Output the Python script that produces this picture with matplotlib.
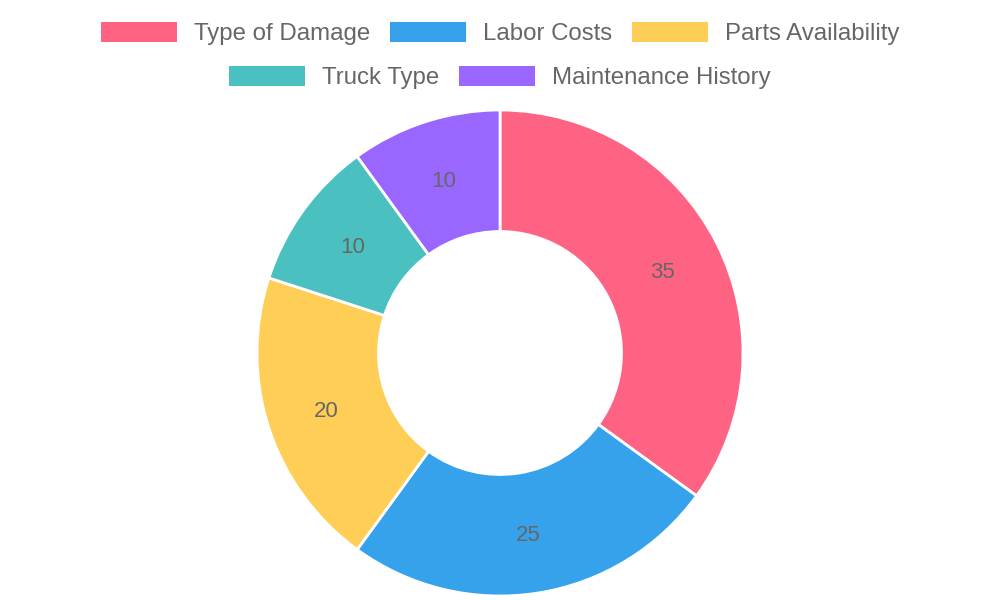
import matplotlib.pyplot as plt
from matplotlib.patches import Rectangle
import numpy as np

labels = ['Type of Damage', 'Labor Costs', 'Parts Availability', 'Truck Type', 'Maintenance History']
values = [35, 25, 20, 10, 10]
colors = ['#FF6384', '#36A2EB', '#FFCE56', '#4BC0C0', '#9966FF']

plt.rcParams['font.family'] = ['Liberation Sans', 'DejaVu Sans']

fig = plt.figure(figsize=(10, 6), dpi=100)
ax = fig.add_axes([0, 0, 1, 1])

# doughnut (pixel coords, y from bottom)
cx, cy = 500, 600 - 353
r_out = 243
r_in = r_out * 0.5
ax.pie(values, colors=colors, startangle=90, counterclock=False,
       center=(cx, cy), radius=r_out, frame=True,
       wedgeprops=dict(width=r_out - r_in, edgecolor='white', linewidth=2))
ax.set_xlim(0, 1000)
ax.set_ylim(0, 600)
ax.set_aspect('equal')
ax.axis('off')

# value labels in the middle of each slice
r_mid = (r_out + r_in) / 2
total = sum(values)
cum = 0
for v in values:
    ang = np.deg2rad(90 - 360 * (cum + v / 2) / total)
    ax.text(cx + r_mid * np.cos(ang), cy + r_mid * np.sin(ang) - 2, str(v),
            ha='center', va='center', fontsize=16, color='#666666')
    cum += v

# legend, drawn like chart.js (two centered rows)
fs = 17.3
box_w, box_h = 76, 20
txt_off, gap = 17, 20
rows = [[0, 1, 2], [3, 4]]
row_y = [32, 76]
fig.canvas.draw()
renderer = fig.canvas.get_renderer()

def text_width(s):
    t = ax.text(0, 0, s, fontsize=fs)
    w = t.get_window_extent(renderer).width
    t.remove()
    return w

for row, ypix in zip(rows, row_y):
    widths = [text_width(labels[i]) for i in row]
    total_w = sum(box_w + txt_off + w for w in widths) + gap * (len(row) - 1)
    x = 500 - total_w / 2
    y = 600 - ypix
    for i, w in zip(row, widths):
        ax.add_patch(Rectangle((x, y - box_h / 2), box_w, box_h, color=colors[i], lw=0))
        ax.text(x + box_w + txt_off, y + 0.5, labels[i], fontsize=fs, color='#666666',
                ha='left', va='center_baseline')
        x += box_w + txt_off + w + gap

fig.savefig('out.png', dpi=100, facecolor='white')
